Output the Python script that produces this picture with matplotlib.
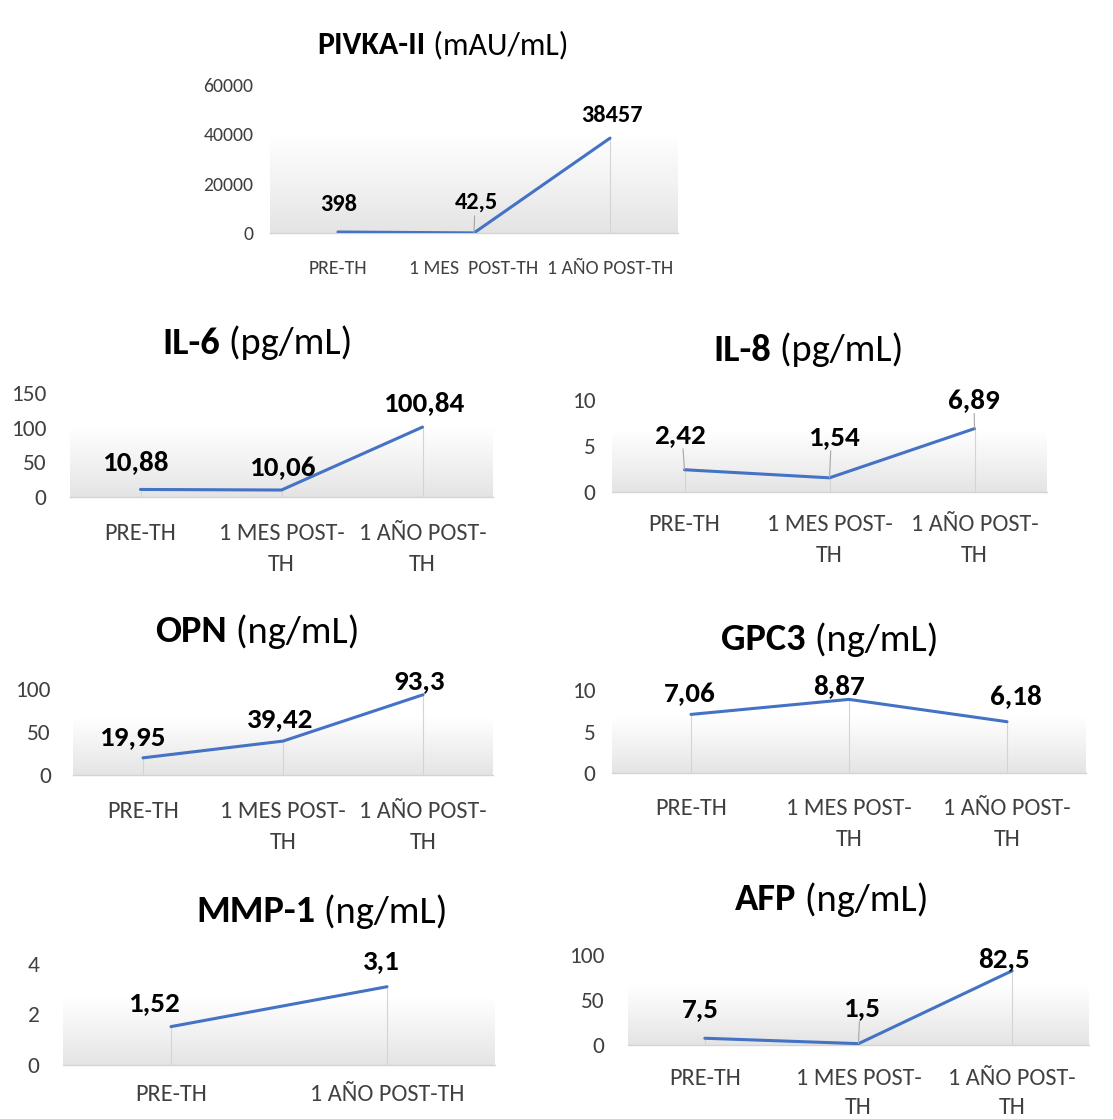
import numpy as np
import matplotlib
matplotlib.use("Agg")
import matplotlib.pyplot as plt
from matplotlib.colors import LinearSegmentedColormap

plt.rcParams['font.family'] = ['Carlito', 'Lato', 'DejaVu Sans']

# ---------------- data ----------------
cats3 = ["PRE-TH", "1 MES POST-TH", "1 AÑO POST-TH"]
cats2 = ["PRE-TH", "1 AÑO POST-TH"]

pivka_vals = [398, 42.5, 38457]
pivka_lbls = ["398", "42,5", "38457"]
pivka_ticks = [0, 20000, 40000, 60000]

il6_vals = [10.88, 10.06, 100.84]
il6_lbls = ["10,88", "10,06", "100,84"]
il6_ticks = [0, 50, 100, 150]

il8_vals = [2.42, 1.54, 6.89]
il8_lbls = ["2,42", "1,54", "6,89"]
il8_ticks = [0, 5, 10]

opn_vals = [19.95, 39.42, 93.3]
opn_lbls = ["19,95", "39,42", "93,3"]
opn_ticks = [0, 50, 100]

gpc3_vals = [7.06, 8.87, 6.18]
gpc3_lbls = ["7,06", "8,87", "6,18"]
gpc3_ticks = [0, 5, 10]

mmp1_vals = [1.52, 3.1]
mmp1_lbls = ["1,52", "3,1"]
mmp1_ticks = [0, 2, 4]

afp_vals = [7.5, 1.5, 82.5]
afp_lbls = ["7,5", "1,5", "82,5"]
afp_ticks = [0, 50, 100]

# ---------------- layout (pixels) ----------------
W, H = 1113, 1119
fig = plt.figure(figsize=(W / 100, H / 100), dpi=100)

LINE_C = "#4472C4"
TXT_C = "#404040"
GRID_C = "#d4d4d4"

grad_cmap = LinearSegmentedColormap.from_list("g", ["#e4e4e4", "#f2f2f2", "#ffffff", "#ffffff"])

small = dict(tsize=23, tick=14.2, cat=14.2, data=17.5)
big = dict(tsize=27.7, tick=16.8, cat=17.5, data=21)

panels = [
    dict(bold="PIVKA-II", unit=" (mAU/mL)", cats=cats3, vals=pivka_vals, lbls=pivka_lbls, ticks=pivka_ticks,
         box=(270, 678, 85, 233), title=(443, 45), fs=small, wrap=False, ypad=12, xpad=27, ls=1.6,
         offs=[(1, 28), (2, 31), (2, 23)], leaders=[False, True, False]),
    dict(bold="IL-6", unit=" (pg/mL)", cats=cats3, vals=il6_vals, lbls=il6_lbls, ticks=il6_ticks,
         box=(70, 493, 393, 497), title=(257, 343), fs=big, wrap=True, ypad=17, xpad=26, ls=1.6,
         offs=[(-5, 27), (1, 22), (1, 24)], leaders=[False, False, False]),
    dict(bold="IL-8", unit=" (pg/mL)", cats=cats3, vals=il8_vals, lbls=il8_lbls, ticks=il8_ticks,
         box=(612, 1047, 400, 492), title=(808, 350), fs=big, wrap=True, ypad=12, xpad=22, ls=1.6,
         offs=[(-5, 35), (4, 41), (-1, 29)], leaders=[True, True, True]),
    dict(bold="OPN", unit=" (ng/mL)", cats=cats3, vals=opn_vals, lbls=opn_lbls, ticks=opn_ticks,
         box=(73, 493, 689, 775), title=(257, 632), fs=big, wrap=True, ypad=16, xpad=26, ls=1.6,
         offs=[(-11, 21), (-3, 22), (-4, 14)], leaders=[False, False, False]),
    dict(bold="GPC3", unit=" (ng/mL)", cats=cats3, vals=gpc3_vals, lbls=gpc3_lbls, ticks=gpc3_ticks,
         box=(612, 1086, 690, 773), title=(830, 640), fs=big, wrap=True, ypad=12, xpad=25, ls=1.6,
         offs=[(-1, 20), (-10, 13), (9, 26)], leaders=[False, False, False]),
    dict(bold="MMP-1", unit=" (ng/mL)", cats=cats2, vals=mmp1_vals, lbls=mmp1_lbls, ticks=mmp1_ticks,
         box=(63, 495, 964, 1065), title=(322, 912), fs=big, wrap=False, ypad=17, xpad=19, ls=1.6,
         offs=[(-17, 24), (-6, 26)], leaders=[False, False]),
    dict(bold="AFP", unit=" (ng/mL)", cats=cats3, vals=afp_vals, lbls=afp_lbls, ticks=afp_ticks,
         box=(628, 1089, 955, 1045), title=(832, 900), fs=big, wrap=True, ypad=17, xpad=23, ls=1.45,
         offs=[(-4, 29), (3, 36), (-8, 12)], leaders=[False, True, False]),
]

renderer = fig.canvas.get_renderer()

for p in panels:
    fs = p["fs"]
    x0, x1, yt, yb = p["box"]
    ax = fig.add_axes([x0 / W, 1 - yb / H, (x1 - x0) / W, (yb - yt) / H])
    n = len(p["cats"])
    xs = np.arange(n)
    ymax = p["ticks"][-1]
    ax.set_xlim(-0.5, n - 0.5)
    ax.set_ylim(0, ymax)

    # gradient plot-area fill
    grad = np.linspace(0, 1, 256).reshape(-1, 1)
    ax.imshow(grad, cmap=grad_cmap, aspect="auto", extent=(-0.5, n - 0.5, 0, ymax),
              origin="lower", zorder=0, interpolation="bilinear")

    # faint drop lines at each category
    ax.vlines(xs, 0, p["vals"], color=GRID_C, lw=0.8, zorder=1)

    ax.plot(xs, p["vals"], color=LINE_C, lw=2.2, zorder=3, solid_capstyle="round")

    for i, (v, lb, (dx, dy), ld) in enumerate(zip(p["vals"], p["lbls"], p["offs"], p["leaders"])):
        ax.annotate(lb, (i, v), xytext=(dx, dy), textcoords="offset pixels",
                    ha="center", va="center", fontsize=fs["data"], fontweight="bold",
                    color="black", zorder=5)
        if ld:
            ax.annotate("", (i, v), xytext=(dx * 0.3, dy - 14), textcoords="offset pixels",
                        arrowprops=dict(arrowstyle="-", color="#a6a6a6", lw=0.8,
                                        shrinkA=0, shrinkB=0), zorder=4)

    for s in ["top", "right", "left"]:
        ax.spines[s].set_visible(False)
    ax.spines["bottom"].set_color(GRID_C)
    ax.spines["bottom"].set_linewidth(1.0)
    ax.spines["bottom"].set_zorder(2)

    ax.set_yticks(p["ticks"])
    ax.set_yticklabels([str(t) for t in p["ticks"]], fontsize=fs["tick"], color=TXT_C)
    labels = [c.replace("POST-TH", "POST-\nTH") if p["wrap"] else c.replace("MES ", "MES  ")
              for c in p["cats"]]
    ax.set_xticks(xs)
    ax.set_xticklabels(labels, fontsize=fs["cat"], color=TXT_C, linespacing=p["ls"])
    ax.tick_params(axis="y", length=0, pad=p["ypad"])
    ax.tick_params(axis="x", length=0, pad=p["xpad"] * 0.72)

    # title: bold part + regular part, centred as a whole
    tx, ty = p["title"]
    t1 = fig.text(0, 1 - ty / H, p["bold"], fontsize=fs["tsize"], fontweight="bold", va="center", ha="left")
    t2 = fig.text(0, 1 - ty / H, p["unit"], fontsize=fs["tsize"], va="center", ha="left")
    w1 = t1.get_window_extent(renderer).width
    w2 = t2.get_window_extent(renderer).width
    left = tx - (w1 + w2) / 2
    t1.set_x(left / W)
    t2.set_x((left + w1) / W)

fig.savefig("out.png", dpi=100, facecolor="white")
